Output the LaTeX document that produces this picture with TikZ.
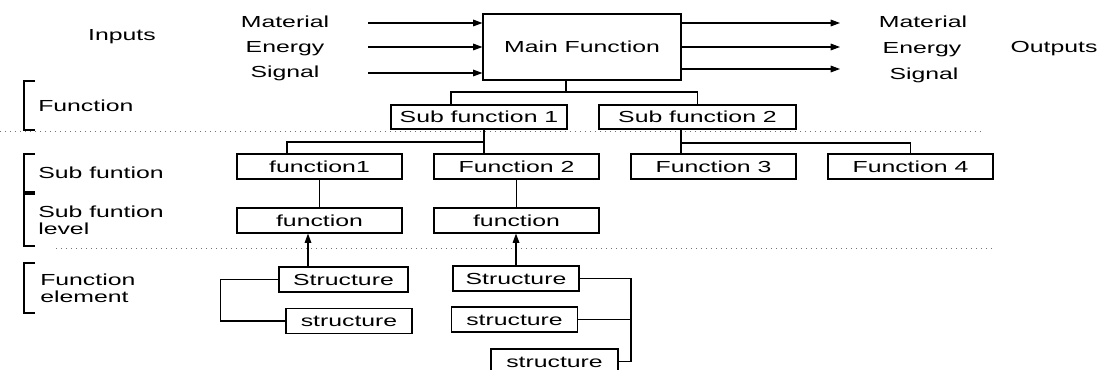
\documentclass[tikz,border=0pt]{standalone}
\usepackage{fontspec}
\setmainfont{Liberation Sans}[FakeStretch=1.55]
\usetikzlibrary{arrows.meta}
\newcommand\px[1]{#1*0.75pt}
\begin{document}
\begin{tikzpicture}[x=0.75pt,y=-0.75pt,
  every node/.style={font=\fontsize{12pt}{12.75pt}\selectfont},
  box/.style={draw, line width=0.85pt, inner sep=0pt, text height=8.6pt, text depth=0pt},
  fbox/.style={box, minimum width=\px{165}, minimum height=\px{25}},
  sbox/.style={box, minimum width=\px{126}, minimum height=\px{25}},
  lbl/.style={inner sep=0pt, text height=8.6pt, text depth=0pt},
  conn/.style={line width=0.85pt},
  arr/.style={line width=0.85pt, -{Triangle[length=7pt,width=5pt]}},
  brk/.style={line width=1pt},
  dotline/.style={black!55, line width=0.75pt, dash pattern=on 0.75pt off 3pt}]
\clip (0,0) rectangle (1103,370);
% boxes
\node[box, minimum width=\px{198}, minimum height=\px{66}] (main) at (582,47) {Main Function};
\node[box, minimum width=\px{176}, minimum height=\px{24}] (sf1) at (479,117) {Sub function 1};
\node[box, minimum width=\px{197}, minimum height=\px{24}] (sf2) at (697.5,117) {Sub function 2};
\node[fbox] (f1) at (319.5,166.5) {function1};
\node[fbox] (f2) at (516.5,166.5) {Function 2};
\node[fbox] (f3) at (713.5,166.5) {Function 3};
\node[fbox] (f4) at (910.5,166.5) {Function 4};
\node[fbox] (fa) at (319.5,220.5) {function};
\node[fbox] (fb) at (516.5,220.5) {function};
\node[sbox, minimum width=\px{129}] (s1) at (343.5,279.5) {Structure};
\node[sbox] (s2) at (349,321) {structure};
\node[sbox] (s3) at (516,278.5) {Structure};
\node[sbox] (s4) at (514.5,319.5) {structure};
\node[sbox, minimum width=\px{127}] (s5) at (554.5,361.5) {structure};
% input / output labels
\node[lbl] (inputs) at (122,35) {Inputs};
\node[lbl] (inm) at (285,22) {Material};
\node[lbl] (ine) at (285,47) {Energy};
\node[lbl] (ins) at (285,72) {Signal};
\node[lbl] (outm) at (923,22) {Material};
\node[lbl] (oute) at (922,48) {Energy};
\node[lbl] (outs) at (924,74) {Signal};
\node[lbl] (outputs) at (1054,47) {Outputs};
% left level labels
\node[lbl, anchor=west] (lf) at (38,106) {Function};
\node[lbl, anchor=west] (lsf) at (38,173) {Sub funtion};
\node[anchor=west, align=left, inner sep=0pt] (lsfl) at (38,220) {Sub funtion\\level};
\node[anchor=west, align=left, inner sep=0pt] (lfe) at (40,288) {Function\\element};
% brackets
\draw[brk] (35,81) -- (24,81) -- (24,130) -- (35,130);
\draw[brk] (35,154) -- (24,154) -- (24,192) -- (35,192);
\draw[brk] (35,194) -- (24,194) -- (24,246) -- (35,246);
\draw[brk] (35,263) -- (24,263) -- (24,313) -- (35,313);
% dotted level separators
\draw[dotline] (0,132) -- (982,132);
\draw[dotline] (56,249) -- (993,249);
% input and output arrows
\coordinate (i1) at (368,23);
\coordinate (i2) at (368,47);
\coordinate (i3) at (368,73);
\coordinate (o1) at (840,23);
\coordinate (o2) at (840,47);
\coordinate (o3) at (840,69);
\draw[arr] (i1) -- (i1 -| main.west);
\draw[arr] (i2) -- (i2 -| main.west);
\draw[arr] (i3) -- (i3 -| main.west);
\draw[arr] (main.east |- o1) -- (o1);
\draw[arr] (main.east |- o2) -- (o2);
\draw[arr] (main.east |- o3) -- (o3);
% tree connectors
\coordinate (m1) at (566,92);
\coordinate (a1) at (451,92);
\draw[conn] (main.south -| m1) -- (m1);
\draw[conn] (sf1.north -| a1) |- (m1) -| (sf2.north);
\coordinate (b1) at (484,142);
\coordinate (b2) at (287,142);
\draw[conn] (sf1.south -| b1) -- (f2.north -| b1);
\draw[conn] (f1.north -| b2) |- (b1);
\coordinate (c1) at (681,143);
\draw[conn] (sf2.south -| c1) -- (f3.north -| c1);
\draw[conn] (c1) -| (f4.north);
\draw[conn] (f1) -- (fa);
\draw[conn] (f2) -- (fb);
\coordinate (d1) at (308,250);
\draw[arr] (s1.north -| d1) -- (fa.south -| d1);
\draw[arr] (s3.north) -- (fb.south -| s3.north);
\draw[conn] (s1.west) -- ++(-58,0) |- (s2.west);
\coordinate (e1) at (631,300);
\draw[conn] (s3.east) -- (s3.east -| e1) -- (s5.east -| e1) -- (s5.east);
\draw[conn] (s4.east) -- (s4.east -| e1);
\end{tikzpicture}
\end{document}
